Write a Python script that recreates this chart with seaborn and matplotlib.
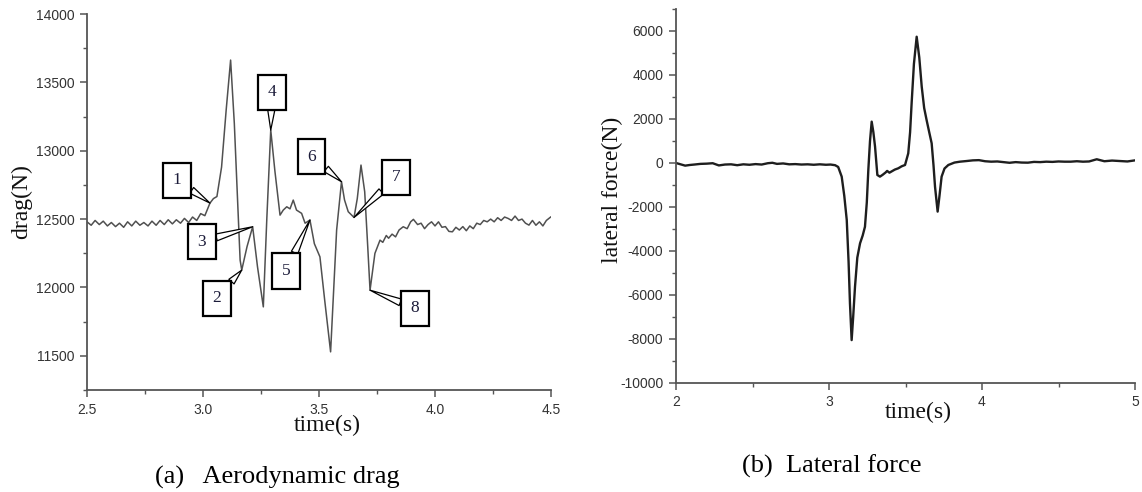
import matplotlib
matplotlib.use("Agg")
import matplotlib.pyplot as plt
from matplotlib.ticker import MultipleLocator, FormatStrFormatter
import seaborn as sns

# ---------------- data ----------------
drag_time = [2.500, 2.518, 2.535, 2.553, 2.570, 2.588, 2.605, 2.623, 2.640, 2.658,
             2.675, 2.693, 2.710, 2.728, 2.745, 2.763, 2.780, 2.798, 2.815, 2.833,
             2.850, 2.868, 2.885, 2.903, 2.920, 2.938, 2.955, 2.973, 2.990, 3.008,
             3.030, 3.045, 3.060, 3.080, 3.100, 3.119, 3.135, 3.150, 3.160, 3.167,
             3.190, 3.214, 3.235, 3.260, 3.275, 3.292, 3.310, 3.332, 3.346, 3.361,
             3.375, 3.389, 3.403, 3.425, 3.440, 3.461, 3.480, 3.504, 3.525, 3.550,
             3.576, 3.597, 3.610, 3.626, 3.651, 3.665, 3.681, 3.697, 3.710, 3.720,
             3.741, 3.763, 3.775, 3.790, 3.800, 3.815, 3.830, 3.845, 3.863, 3.880,
             3.895, 3.907, 3.925, 3.940, 3.955, 3.970, 3.985, 4.000, 4.015, 4.030,
             4.045, 4.060, 4.075, 4.090, 4.105, 4.120, 4.135, 4.150, 4.165, 4.180,
             4.195, 4.210, 4.225, 4.240, 4.255, 4.270, 4.285, 4.300, 4.315, 4.330,
             4.345, 4.360, 4.375, 4.390, 4.405, 4.420, 4.435, 4.450, 4.465, 4.480,
             4.500]
drag_force = [12480, 12455, 12490, 12460, 12485, 12450, 12475, 12445, 12470, 12440,
              12480, 12450, 12485, 12455, 12475, 12450, 12485, 12455, 12490, 12460,
              12495, 12465, 12495, 12470, 12505, 12475, 12515, 12490, 12540, 12525,
              12617, 12650, 12665, 12880, 13300, 13663, 13200, 12600, 12200, 12127,
              12300, 12444, 12150, 11858, 12500, 13151, 12850, 12529, 12566, 12590,
              12575, 12639, 12566, 12542, 12470, 12493, 12320, 12224, 11900, 11529,
              12420, 12773, 12640, 12554, 12512, 12650, 12895, 12700, 12300, 11980,
              12249, 12346, 12330, 12380, 12360, 12390, 12370, 12420, 12444, 12430,
              12480, 12498, 12460, 12470, 12430, 12460, 12480, 12450, 12480, 12440,
              12445, 12410, 12407, 12440, 12420, 12445, 12415, 12450, 12430, 12470,
              12460, 12490, 12480, 12500, 12480, 12510, 12490, 12515, 12505, 12490,
              12522, 12490, 12500, 12470, 12456, 12490, 12455, 12480, 12450, 12490,
              12517]

lat_time = [2.00, 2.03, 2.06, 2.09, 2.12, 2.16, 2.20, 2.24, 2.28, 2.32,
            2.36, 2.40, 2.44, 2.48, 2.52, 2.56, 2.60, 2.63, 2.66, 2.70,
            2.74, 2.78, 2.82, 2.86, 2.90, 2.94, 2.98, 3.01, 3.04, 3.06,
            3.083, 3.100, 3.116, 3.128, 3.137, 3.148, 3.158, 3.170, 3.185, 3.203,
            3.220, 3.235, 3.247, 3.257, 3.268, 3.279, 3.290, 3.301, 3.316, 3.333,
            3.350, 3.370, 3.380, 3.395, 3.410, 3.430, 3.453, 3.475, 3.497, 3.518,
            3.530, 3.540, 3.555, 3.573, 3.590, 3.606, 3.622, 3.638, 3.655, 3.671,
            3.683, 3.693, 3.710, 3.722, 3.736, 3.755, 3.780, 3.820, 3.856, 3.900,
            3.940, 3.980, 4.020, 4.060, 4.100, 4.140, 4.180, 4.220, 4.260, 4.300,
            4.340, 4.380, 4.420, 4.460, 4.500, 4.540, 4.580, 4.620, 4.660, 4.700,
            4.750, 4.800, 4.850, 4.900, 4.950, 5.000]
lat_force = [0, -60, -120, -90, -70, -40, -30, -10, -110, -70,
             -60, -100, -60, -80, -50, -70, -10, 10, -40, -20,
             -60, -50, -70, -60, -80, -60, -80, -70, -100, -180,
             -620, -1500, -2590, -4500, -6380, -8050, -7000, -5620, -4300, -3650,
             -3300, -2900, -1800, -320, 1000, 1880, 1400, 740, -545, -620,
             -540, -430, -360, -440, -380, -300, -240, -150, -90, 440,
             1400, 2710, 4500, 5740, 4800, 3470, 2500, 1950, 1400, 895,
             -100, -1080, -2210, -1500, -620, -250, -90, 20, 60, 90,
             120, 130, 80, 60, 70, 40, 10, 40, 20, 15,
             50, 40, 60, 50, 70, 60, 60, 80, 60, 70,
             170, 80, 110, 90, 70, 120]

callout_labels = ["1", "2", "3", "4", "5", "6", "7", "8"]
callout_time = [3.030, 3.167, 3.214, 3.292, 3.461, 3.597, 3.651, 3.720]
callout_force = [12617, 12127, 12444, 13151, 12493, 12773, 12512, 11980]
# offset of each label box from its point, in pixels (layout only)
callout_dx = [-33, -25, -51, 1, -24, -30, 42, 45]
callout_dy = [23, -28, -15, 38, -51, 25, 40, -18]

# ---------------- style ----------------
sns.set_theme(style="ticks")
plt.rcParams['font.family'] = ['Liberation Sans', 'DejaVu Sans']
plt.rcParams['axes.unicode_minus'] = False
serif = ['Liberation Serif', 'DejaVu Serif']

W, H = 1142, 492
fig = plt.figure(figsize=(W / 100, H / 100), dpi=100)
fig.patch.set_facecolor('white')
ax1 = fig.add_axes([87 / W, (H - 390) / H, 464 / W, 376 / H])
ax2 = fig.add_axes([676 / W, (H - 383) / H, 459 / W, 374 / H])

sns.lineplot(x=drag_time, y=drag_force, ax=ax1, color='#505050', lw=1.1,
             estimator=None, sort=False)
sns.lineplot(x=lat_time, y=lat_force, ax=ax2, color='#1e1e1e', lw=1.7,
             estimator=None, sort=False, solid_joinstyle='round')

for ax in (ax1, ax2):
    ax.set_facecolor('white')
    for s in ('top', 'right'):
        ax.spines[s].set_visible(False)
    for s in ('left', 'bottom'):
        ax.spines[s].set_color('#555555')
        ax.spines[s].set_linewidth(1.3)
    ax.tick_params(which='major', direction='out', length=5, width=1.1,
                   color='#555555', labelsize=10, labelcolor='#333333', pad=4)
    ax.tick_params(which='minor', direction='out', length=3, width=1.0,
                   color='#555555')

ax1.set_xlim(2.5, 4.5)
ax1.set_ylim(11250, 14000)
ax1.xaxis.set_major_locator(MultipleLocator(0.5))
ax1.xaxis.set_minor_locator(MultipleLocator(0.25))
ax1.xaxis.set_major_formatter(FormatStrFormatter('%.1f'))
ax1.yaxis.set_major_locator(MultipleLocator(500))
ax1.yaxis.set_minor_locator(MultipleLocator(250))

ax2.set_xlim(2, 5)
ax2.set_ylim(-10000, 7000)
ax2.xaxis.set_major_locator(MultipleLocator(1))
ax2.xaxis.set_minor_locator(MultipleLocator(0.5))
ax2.xaxis.set_major_formatter(FormatStrFormatter('%d'))
ax2.yaxis.set_major_locator(MultipleLocator(2000))
ax2.yaxis.set_minor_locator(MultipleLocator(1000))
ax2.yaxis.set_major_formatter(FormatStrFormatter('%d'))

lab = dict(family=serif, size=17, color='#111111')
ax1.set_xlabel('time(s)', **lab)
ax1.set_ylabel('drag(N)', **lab)
ax1.xaxis.set_label_coords(0.517, -0.066)
ax1.yaxis.set_label_coords(-0.119, 0.5)
ax2.set_xlabel('time(s)', **lab)
ax2.set_ylabel('lateral force(N)', **lab)
ax2.xaxis.set_label_coords(0.527, -0.05)
ax2.yaxis.set_label_coords(-0.115, 0.516)

# callouts
for t, f, s, dx, dy in zip(callout_time, callout_force, callout_labels,
                           callout_dx, callout_dy):
    ax1.annotate(s, xy=(t, f), xytext=(dx, dy), textcoords='offset pixels',
                 ha='center', va='center', family=serif, size=12.5,
                 color='#1c1c3a', zorder=5,
                 bbox=dict(boxstyle='square,pad=0.55', fc='white',
                           ec='black', lw=1.6),
                 arrowprops=dict(arrowstyle='wedge,tail_width=0.4,shrink_factor=0.5',
                                 fc='white', ec='black', lw=0.9,
                                 shrinkA=0, shrinkB=0))

cap = dict(family=serif, size=19, color='black', ha='center', va='center')
fig.text(277 / W, 1 - 477 / H, '(a)   Aerodynamic drag', **cap)
fig.text(832 / W, 1 - 466 / H, '(b)  Lateral force', **cap)

fig.savefig('out.png', dpi=100, facecolor='white')
